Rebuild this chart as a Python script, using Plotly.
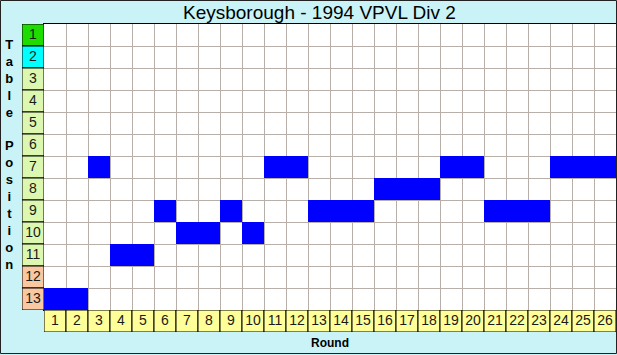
import plotly.graph_objects as go

# ---- data ----
title_text = "Keysborough - 1994 VPVL Div 2"
rounds = list(range(1, 27))
table_positions = list(range(1, 14))
positions = [13, 13, 7, 11, 11, 9, 10, 10, 9, 10, 7, 7, 9, 9, 9, 8, 8, 8, 7, 7, 9, 9, 9, 7, 7, 7]

# ---- layout geometry ----
W, H = 617, 355
ML, MR, MT, MB = 22, 1, 24, 23
PW, PH = W - ML - MR, H - MT - MB
n_r, n_p = len(rounds), len(table_positions)
fx = 1 / (n_r + 1)
fy = 1 / (n_p + 1)

BG = "#c9f3f7"
GRID = "#b8b0a8"
FONT = "Liberation Sans, Arial, sans-serif"


def pos_color(p):
    if p == 1:
        return "#1edc00"
    if p == 2:
        return "#00ffff"
    if p >= 12:
        return "#f9c8a0"
    return "#dcf8b0"


fig = go.Figure()

z = [[1 if positions[i] == p else None for i in range(n_r)] for p in table_positions]
fig.add_trace(go.Heatmap(
    x=rounds, y=table_positions, z=z,
    colorscale=[[0, "#0000ff"], [1, "#0000ff"]], showscale=False,
    hoverinfo="skip", xaxis="x", yaxis="y"))

fig.add_trace(go.Scatter(
    x=[0.5] * n_p, y=table_positions, text=[str(p) for p in table_positions],
    mode="text", textfont=dict(family=FONT, size=14, color="#1a1a1a"),
    hoverinfo="skip", xaxis="x2", yaxis="y2", showlegend=False))

fig.add_trace(go.Scatter(
    x=rounds, y=[0.5] * n_r, text=[str(r) for r in rounds],
    mode="text", textfont=dict(family=FONT, size=14, color="#1a1a1a"),
    hoverinfo="skip", xaxis="x3", yaxis="y3", showlegend=False))

shapes = []
for p in table_positions:
    shapes.append(dict(type="rect", xref="x2", yref="y2", x0=0, x1=1,
                       y0=p - 0.5, y1=p + 0.5, fillcolor=pos_color(p),
                       line=dict(color="black", width=1), layer="below"))
for r in rounds:
    shapes.append(dict(type="rect", xref="x3", yref="y3", x0=r - 0.5, x1=r + 0.5,
                       y0=0, y1=1, fillcolor="#ffff99",
                       line=dict(color="black", width=1), layer="below"))
# outer border
shapes.append(dict(type="rect", xref="paper", yref="paper",
                   x0=(0.5 - ML) / PW, x1=(W - 0.5 - ML) / PW,
                   y0=(1.5 - MB) / PH, y1=(H - MB - 0.5) / PH,
                   line=dict(color="#222222", width=1), fillcolor="rgba(0,0,0,0)"))

annotations = [
    dict(text="<b>T<br>a<br>b<br>l<br>e<br> <br>P<br>o<br>s<br>i<br>t<br>i<br>o<br>n</b>",
         xref="paper", yref="paper", x=(10 - ML) / PW, y=(H - MB - 154) / PH,
         xanchor="center", yanchor="middle", showarrow=False,
         font=dict(family=FONT, size=13, color="black")),
    dict(text="<b>Round</b>", xref="paper", yref="paper",
         x=(fx + 1) / 2, y=(H - MB - 343) / PH, xanchor="center", yanchor="middle",
         showarrow=False, font=dict(family=FONT, size=12, color="black")),
    dict(text=title_text, xref="paper", yref="paper", x=0.5, y=(H - MB - 12) / PH,
         xanchor="center", yanchor="middle", showarrow=False,
         font=dict(family=FONT, size=19, color="black")),
]

axis_common = dict(showticklabels=False, ticks="", zeroline=False, fixedrange=True)

fig.update_layout(
    width=W, height=H,
    margin=dict(l=ML, r=MR, t=MT, b=MB, pad=0),
    paper_bgcolor=BG, plot_bgcolor="white",
    showlegend=False,
    xaxis=dict(domain=[fx, 1], range=[0.5, n_r + 0.5], anchor="y",
               tickvals=[k + 0.5 for k in range(n_r + 1)], showgrid=True,
               gridcolor=GRID, gridwidth=1, showline=True, linecolor="black",
               mirror=True, linewidth=1, **axis_common),
    yaxis=dict(domain=[fy, 1], range=[n_p + 0.5, 0.5], anchor="x",
               tickvals=[k + 0.5 for k in range(n_p + 1)], showgrid=True,
               gridcolor=GRID, gridwidth=1, showline=True, linecolor="black",
               mirror=True, linewidth=1, **axis_common),
    xaxis2=dict(domain=[0, fx], range=[0, 1], anchor="y2", showgrid=False, **axis_common),
    yaxis2=dict(domain=[fy, 1], range=[n_p + 0.5, 0.5], anchor="x2", showgrid=False, **axis_common),
    xaxis3=dict(domain=[fx, 1], range=[0.5, n_r + 0.5], anchor="y3", showgrid=False, **axis_common),
    yaxis3=dict(domain=[0, fy], range=[0, 1], anchor="x3", showgrid=False, **axis_common),
    shapes=shapes,
    annotations=annotations,
)

fig.write_html("out.html")
